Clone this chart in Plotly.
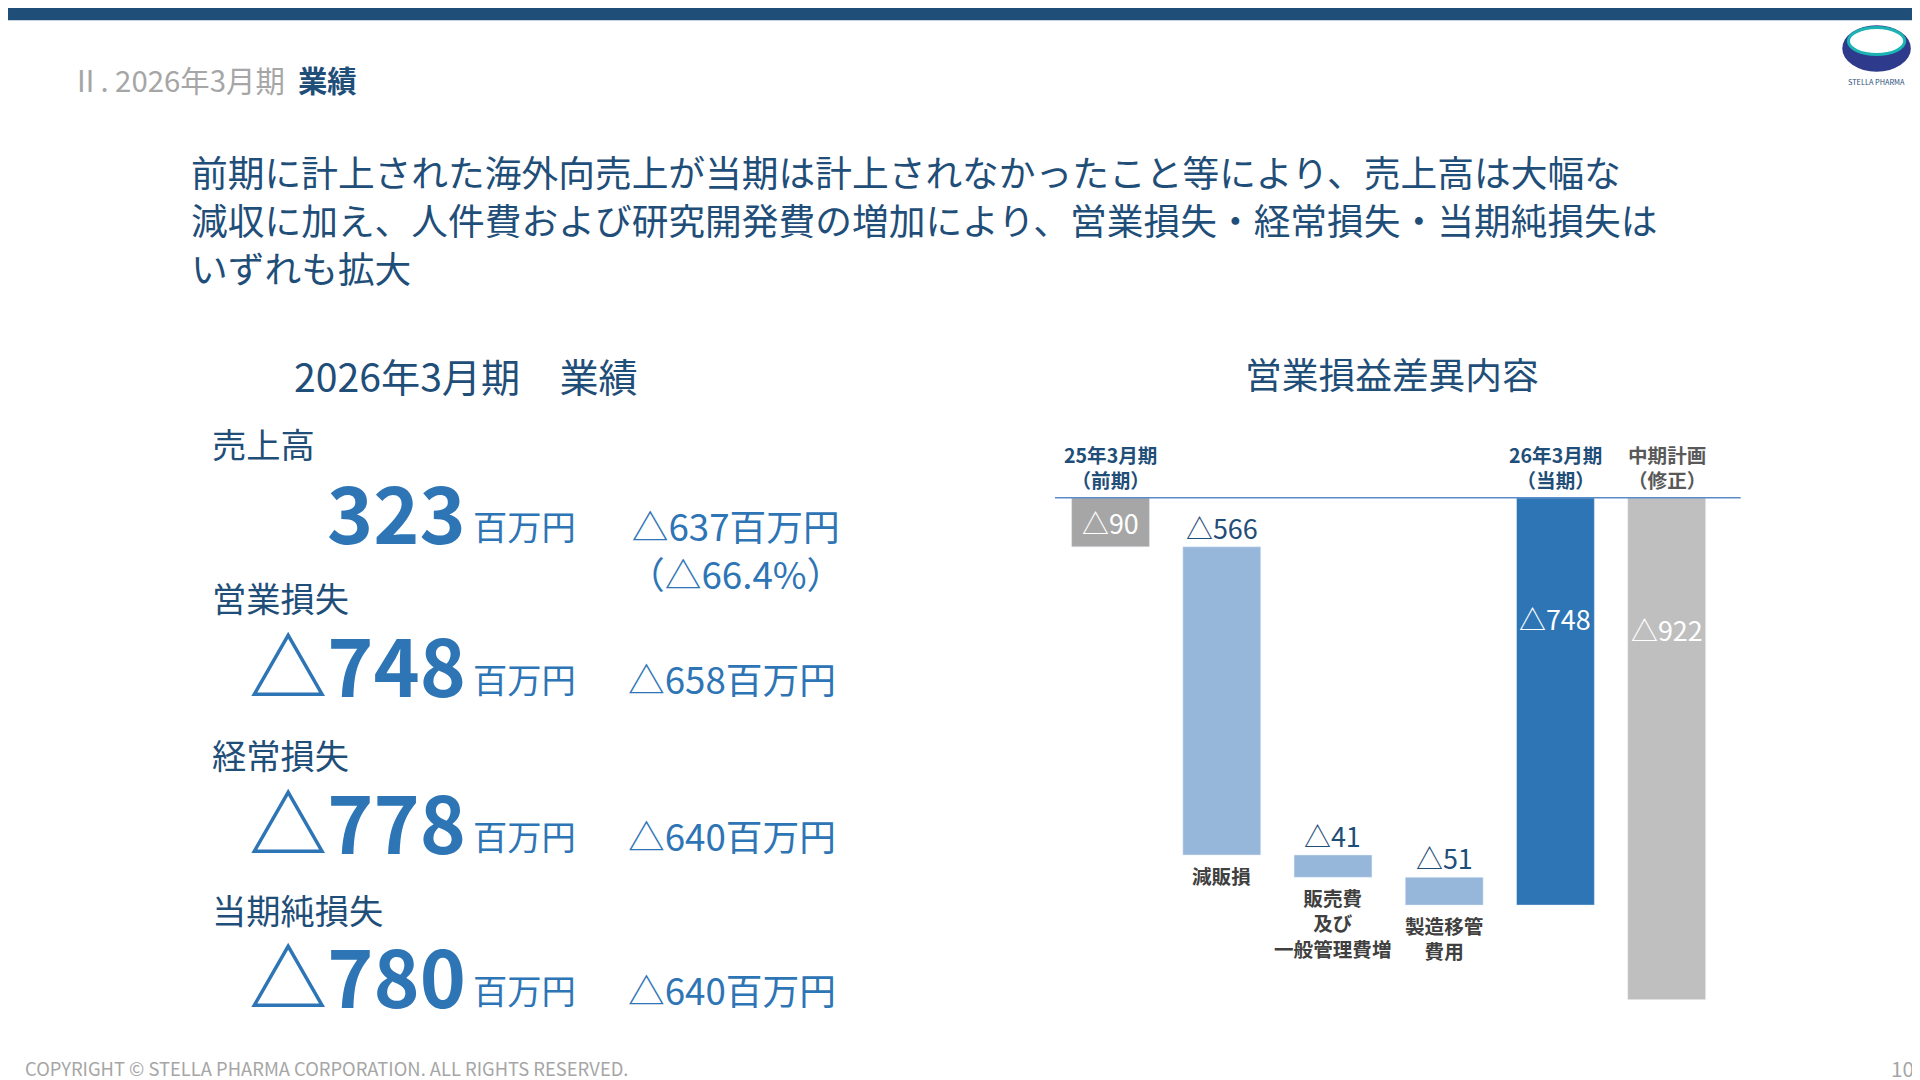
import plotly.graph_objects as go

# waterfall data (百万円)
cats = ["25年3月期", "減販損", "販管費", "製造移管", "26年3月期", "中期計画"]
deltas = [-90, -566, -41, -51, None, None]
totals = [None, None, None, None, -748, -922]
bar_labels = ["△90", "△566", "△41", "△51", "△748", "△922"]
colors = ["#A6A6A6", "#97B7DA", "#97B7DA", "#97B7DA", "#2E75B6", "#BFBFBF"]
top_labels = ["25年3月期<br>（前期）", "", "", "", "26年3月期<br>（当期）", "中期計画<br>（修正）"]
bottom_labels = ["", "減販損", "販売費<br>及び<br>一般管理費増", "製造移管<br>費用", "", ""]

bases, heights = [], []
run = 0
for d, t in zip(deltas, totals):
    if t is not None:
        bases.append(0); heights.append(t); run = t
    else:
        bases.append(run); heights.append(d); run += d

W, H = 1568, 882
S = 1920 / W
FONT = "Noto Sans CJK JP"
BLUE = "#2E75B6"
NAVY = "#1F4E79"

fig = go.Figure()
fig.add_trace(go.Bar(x=cats, y=heights, base=bases, marker_color=colors, width=0.7,
                     hoverinfo="skip"))

ann = []
def txt(x, y, s, size, color="#1F1F1F", xa="left", ya="middle", **kw):
    ann.append(dict(x=x / W, y=1 - y / H, xref="paper", yref="paper", text=s, showarrow=False,
                    xanchor=xa, yanchor=ya, font=dict(size=size * S, color=color, family=FONT), **kw))

# bar value labels
for i, (c, b, h, lab) in enumerate(zip(cats, bases, heights, bar_labels)):
    if i == 0:
        ann.append(dict(x=c, y=b + h / 2, text=lab, showarrow=False, font=dict(size=22 * S, color="white", family=FONT)))
    elif i < 4:
        ann.append(dict(x=c, y=b, text=lab, showarrow=False, yanchor="bottom", yshift=-2,
                        font=dict(size=22 * S, color=NAVY, family=FONT)))
    else:
        ann.append(dict(x=c, y=-222 if i == 4 else -242, text=lab, showarrow=False,
                        font=dict(size=22 * S, color="white", family=FONT)))
    if top_labels[i]:
        ann.append(dict(x=c, y=0, text="<b>" + top_labels[i] + "</b>", showarrow=False, yanchor="bottom", yshift=2,
                        font=dict(size=16 * S, color="#595959" if i == 5 else NAVY, family=FONT)))
    if bottom_labels[i]:
        ann.append(dict(x=c, y=b + h, text="<b>" + bottom_labels[i] + "</b>", showarrow=False, yanchor="top", yshift=-4,
                        font=dict(size=16 * S, color="#404040", family=FONT)))

txt(50, 58, "<span style='color:#A6A6A6'>Ⅱ. 2026年3月期</span>  <b>業績</b>", 24, NAVY)
txt(148, 172, "前期に計上された海外向売上が当期は計上されなかったこと等により、売上高は大幅な<br>"
    "減収に加え、人件費および研究開発費の増加により、営業損失・経常損失・当期純損失は<br>いずれも拡大",
    30, "#1F4E79", align="left")
txt(232, 300, "2026年3月期　業績", 32, NAVY)
txt(1130, 298, "営業損益差異内容", 30, NAVY, xa="center")

items = [("売上高", "323", "△637百万円<br>（△66.4%）", 355, 410),
         ("営業損失", "△748", "△658百万円", 481, 535),
         ("経常損失", "△778", "△640百万円", 609, 663),
         ("当期純損失", "△780", "△640百万円", 736, 789)]
for head, big, diff, yh, yb in items:
    txt(165, yh, head, 28, NAVY)
    txt(376, yb, "<b>" + big + "</b>", 64, BLUE, xa="right")
    txt(378, yb + 12, "百万円", 28, BLUE)
    txt(505, yb + 12 + (20 if "<br>" in diff else 0), diff, 30, BLUE, align="center")

txt(12, 866, "COPYRIGHT © STELLA PHARMA CORPORATION. ALL RIGHTS RESERVED.", 15, "#A6A6A6")
txt(1558, 866, "10", 17, "#A6A6A6", xa="right")
txt(1526, 60, "STELLA PHARMA", 6, NAVY, xa="center")

shapes = [dict(type="rect", xref="paper", yref="paper", x0=0, x1=1, y0=1 - 10 / H, y1=1,
               fillcolor=NAVY, line_width=0),
          dict(type="circle", xref="paper", yref="paper", x0=1498 / W, x1=1554 / W, y0=1 - 52 / H, y1=1 - 14 / H,
               fillcolor="#2E3A8C", line_width=0),
          dict(type="circle", xref="paper", yref="paper", x0=1503 / W, x1=1549 / W, y0=1 - 38 / H, y1=1 - 16 / H,
               fillcolor="white", line=dict(color="#1BB3B3", width=3)),
          dict(type="line", xref="paper", yref="paper", x0=855 / W, x1=1415 / W, y0=1 - 400 / H, y1=1 - 400 / H,
               line=dict(color="#5B8BC9", width=1.5))]

fig.update_layout(width=1920, height=1080, paper_bgcolor="white", plot_bgcolor="white",
                  margin=dict(l=0, r=0, t=0, b=0), showlegend=False, annotations=ann, shapes=shapes,
                  xaxis=dict(domain=[855 / W, 1400 / W], visible=False, range=[-0.5, 5.5]),
                  yaxis=dict(domain=[1 - 810 / H, 1 - 400 / H], range=[-922, 0], visible=False))
fig.write_html("out.html")
